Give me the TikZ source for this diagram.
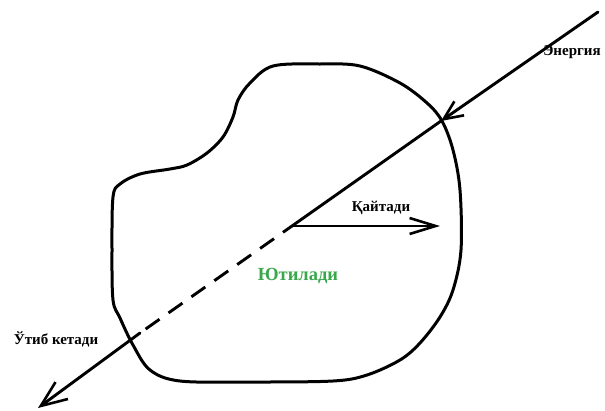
\documentclass[tikz,border=0pt]{standalone}
\usepackage{fontspec}
\setmainfont{Liberation Serif}
\usetikzlibrary{arrows.meta}

\definecolor{utilgreen}{RGB}{56,168,74}

\begin{document}
\begin{tikzpicture}[x=1pt, y=-1pt,
    ray/.style={line width=2.9pt, line cap=round},
    barbin/.style={-{Straight Barb[length=19pt, width=17pt, line width=2.6pt]}},
    barbout/.style={-{Straight Barb[length=26pt, width=16pt, line width=2.6pt]}},
    barbexit/.style={-{Straight Barb[length=26pt, width=21pt, line width=2.6pt]}},
    lbl/.style={font=\fontsize{15}{17}\selectfont\bfseries, inner sep=0pt}]

    % Cadre de l'image
    \useasboundingbox (0,0) rectangle (605,410);

    % Contour du corps
    \draw[line width=3pt, line join=round] plot[smooth cycle, tension=0.55] coordinates {
        (273,66) (320,64) (360,66) (400,83) (427,103) (442,121) (453,150)
        (460,190) (461,250) (453,290) (440,317) (420,343) (400,360)
        (367,375) (333,381) (250,382) (180,381) (150,370) (133,345)
        (120,318) (113,300) (112,250) (113,197) (120,184) (140,174)
        (170,169) (187,165) (207,153) (223,137) (233,117) (238,100)
        (250,83)};

    % Points du rayon
    \coordinate (energySrc) at (598,12);
    \coordinate (hitIn) at (441,121);
    \coordinate (centre) at (292,226);
    \coordinate (returnTip) at (440,226);
    \coordinate (dashEnd) at (140,333);
    \coordinate (exitTip) at (38,408);

    % Rayon entrant
    \draw[ray, barbin] (energySrc) -- (hitIn);
    \draw[ray] (hitIn) -- (centre);

    % Partie renvoyée
    \draw[ray, barbout] (centre) -- (returnTip);

    % Partie transmise (tirets puis trait plein)
    \draw[ray, line cap=butt, dash pattern=on 17pt off 11pt, dash phase=6pt] (centre) -- (dashEnd);
    \draw[ray, barbexit] (dashEnd) -- (exitTip);

    % Étiquettes
    \node[lbl] (energyLbl) at (572,52) {Энергия};
    \node[lbl] (returnLbl) at (381,208) {Қайтади};
    \node[lbl, font=\fontsize{18.5}{20}\selectfont\bfseries, text=utilgreen] (absorbLbl) at (298,276) {Ютилади};
    \node[lbl] (passLbl) at (56,339) {Ўтиб кетади};

\end{tikzpicture}
\end{document}
